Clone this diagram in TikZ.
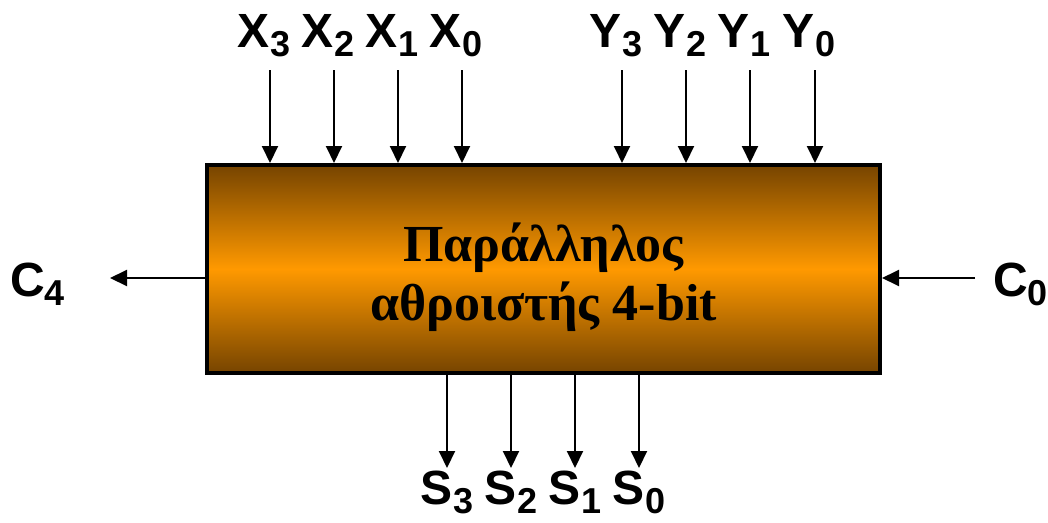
\documentclass[tikz,border=0pt]{standalone}
\usepackage{fontspec}
\setmainfont{Liberation Serif}
\setsansfont{Liberation Sans}
\usetikzlibrary{positioning,arrows.meta}
\definecolor{AdderBrown}{RGB}{118,68,0}
\definecolor{AdderOrange}{RGB}{255,153,0}
\newcommand{\sig}[2]{#1\raisebox{-9pt}{\fontsize{36}{36}\selectfont #2}}

\begin{document}
\begin{tikzpicture}[
x=1pt,y=-1pt,
node distance=12pt,
adder/.style={
    rectangle,
    draw=black,
    line width=4pt,
    top color=AdderBrown,
    bottom color=AdderBrown,
    middle color=AdderOrange,
    minimum width=673pt,
    minimum height=208pt
},
title/.style={align=center,font=\bfseries\fontsize{52}{59}\selectfont},
sig/.style={inner sep=0pt,font=\sffamily\bfseries\fontsize{48}{48}\selectfont},
arrow/.style={-{Triangle[length=17pt,width=16pt]},line width=2pt,draw=black}
]
\useasboundingbox (0,0) rectangle (1048,522);

\node[adder] (box) at (543.5,269) {};
\node[title] (name) at ([yshift=-8pt]box.center) {Παράλληλος\\αθροιστής 4-bit};

% inputs X and Y
\foreach \x/\i in {270/3,334/2,398/1,462/0}{
    \coordinate (xa\i) at (\x,70);
    \node[sig,above=13pt of xa\i,xshift=-6pt] (x\i) {\sig{X}{\i}};
    \draw[arrow] (xa\i) -- (xa\i |- box.north);
}
\foreach \x/\i in {622/3,686/2,750/1,815/0}{
    \coordinate (ya\i) at (\x,70);
    \node[sig,above=13pt of ya\i,xshift=-6pt] (y\i) {\sig{Y}{\i}};
    \draw[arrow] (ya\i) -- (ya\i |- box.north);
}

% sum outputs
\foreach \x/\i in {447/3,511/2,575/1,639/0}{
    \coordinate (sa\i) at (\x,468);
    \node[sig,below=3pt of sa\i] (s\i) {\sig{S}{\i}};
    \draw[arrow] (sa\i |- box.south) -- (sa\i);
}

% carries
\coordinate (c4a) at (110,278);
\coordinate (c0a) at (975,278);
\node[sig,left=45pt of c4a,yshift=-6pt] (c4) {\sig{C}{4}};
\node[sig,right=18pt of c0a,yshift=-6pt] (c0) {\sig{C}{0}};
\draw[arrow] (c4a -| box.west) -- (c4a);
\draw[arrow] (c0a) -- (c0a -| box.east);

\end{tikzpicture}
\end{document}
